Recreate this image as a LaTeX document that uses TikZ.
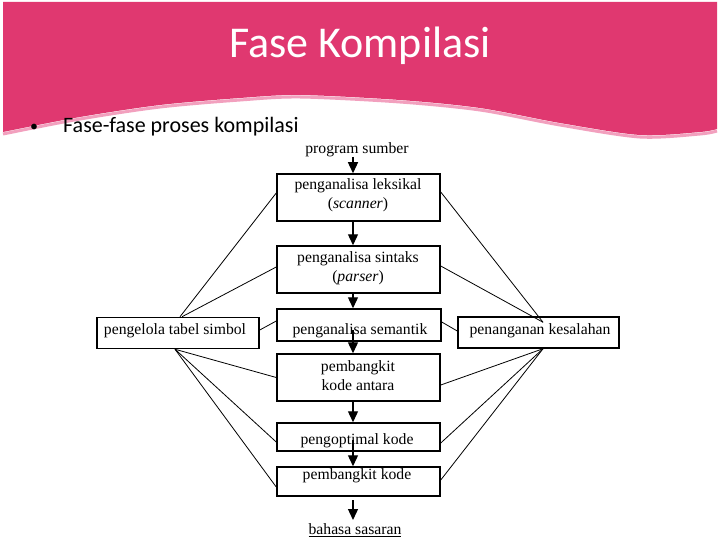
\documentclass[tikz,border=0pt]{standalone}
\usepackage{fontspec}
\setmainfont{Liberation Serif}
\newfontfamily\slidefont{Carlito}
\usetikzlibrary{arrows.meta}
\definecolor{slidepink}{RGB}{224,56,112}
\definecolor{shadepink}{RGB}{242,160,190}
\begin{document}
\begin{tikzpicture}[x=1pt,y=-1pt,
  box/.style={draw=black,line width=1.5pt,minimum width=163pt,inner sep=0pt},
  sidebox/.style={draw=black,line width=1.5pt,minimum width=162pt,minimum height=31pt,inner sep=0pt},
  txt/.style={font=\fontsize{15.7}{18.5}\selectfont,align=center,inner sep=0pt},
  flow/.style={line width=1.3pt,-{Triangle[width=10pt,length=11pt]}},
  link/.style={line width=0.8pt}]
\useasboundingbox[fill=white] (0,0) rectangle (720,540);
% header band
\draw[shadepink,line width=3pt] plot[smooth] coordinates {(717,131) (700,134) (640,137) (560,125) (480,110) (400,102) (300,97) (240,100) (160,107) (80,119) (3,134)};
\fill[slidepink] (3,2) -- (717,2) -- plot[smooth] coordinates {(717,129) (700,132) (640,135) (560,123) (480,108) (400,100) (300,95) (240,98) (160,105) (80,117) (3,132)} -- cycle;
\node[text=white,font=\slidefont\fontsize{44}{50}\selectfont] (title) at (360,46) {Fase Kompilasi};
\node[font=\slidefont\fontsize{16}{20}\selectfont] (bullet) at (34,128) {•};
\node[font=\slidefont\fontsize{22}{26}\selectfont,anchor=west,inner sep=0pt] (sub) at (63,127) {Fase-fase proses kompilasi};
% boxes
\node[box,minimum height=47pt] (b1) at (358.5,197.5) {};
\node[box,minimum height=47pt] (b2) at (358.5,269.5) {};
\node[box,minimum width=164pt,minimum height=32pt] (b3) at (359,325) {};
\node[box,minimum height=47pt] (b4) at (358.5,377.5) {};
\node[box,minimum height=28pt] (b5) at (358.5,437) {};
\node[box,minimum height=29pt] (b6) at (358.5,481.5) {};
\node[sidebox] (L) at (178,333) {};
\node[sidebox,minimum width=161pt] (R) at (538.5,332.5) {};
% texts
\node[txt] (src) at (357,150) {program sumber};
\node[txt] (t1) at (358,195) {penganalisa leksikal\\(\textit{scanner})};
\node[txt] (t2) at (358,268) {penganalisa sintaks\\(\textit{parser})};
\node[txt] (t3) at (360,331) {penganalisa semantik};
\node[txt] (t4) at (358,375.5) {pembangkit\\kode antara};
\node[txt] (t5) at (357,441) {pengoptimal kode};
\node[txt] (t6) at (357,476) {pembangkit kode};
\node[txt] (tL) at (175,331) {pengelola tabel simbol};
\node[txt] (tR) at (540,331) {penanganan kesalahan};
\node[txt] (dst) at (355,530) {\underline{bahasa sasaran}};
% flow arrows
\coordinate (f0) at (353,157);
\coordinate (f3) at (353,330);
\coordinate (f5) at (353,440);
\coordinate (f6s) at (353,500);
\coordinate (f6e) at (353,520);
\draw[flow] (f0) -- (f0 |- b1.north);
\draw[flow] (f0 |- b1.south) -- (f0 |- b2.north);
\draw[flow] (f0 |- b2.south) -- (f0 |- b3.north);
\draw[flow] (f3) -- (f0 |- b4.north);
\draw[flow] (f0 |- b4.south) -- (f0 |- b5.north);
\draw[flow] (f5) -- (f0 |- b6.north);
\draw[flow] (f6s) -- (f6e);
% left links
\draw[link] ([yshift=4.5pt]b1.west) -- ([xshift=2pt]L.north);
\draw[link] ([yshift=2.5pt]b2.west) -- ([xshift=4pt]L.north);
\draw[link] ([yshift=3pt]L.east) -- ([yshift=4pt]b3.west);
\draw[link] ([xshift=-3pt]L.south) -- (b4.west);
\draw[link] ([xshift=-3pt]L.south) -- ([yshift=-5pt]b5.west);
\draw[link] ([xshift=-3pt]L.south) -- ([yshift=-5.5pt]b6.west);
% right links
\draw[link] ([yshift=5.5pt]b1.east) -- ([xshift=4.5pt,yshift=-6pt]R.north);
\draw[link] ([yshift=3.5pt]b2.east) -- ([xshift=4.5pt,yshift=-6pt]R.north);
\draw[link] ([yshift=3pt]b3.east) -- ([yshift=1.5pt]R.west);
\draw[link] ([xshift=4.5pt]R.south) -- ([yshift=-7.5pt]b4.east);
\draw[link] ([xshift=4.5pt]R.south) -- ([yshift=-6pt]b5.east);
\draw[link] ([xshift=4.5pt]R.south) -- ([yshift=1.5pt]b6.east);
\end{tikzpicture}
\end{document}
